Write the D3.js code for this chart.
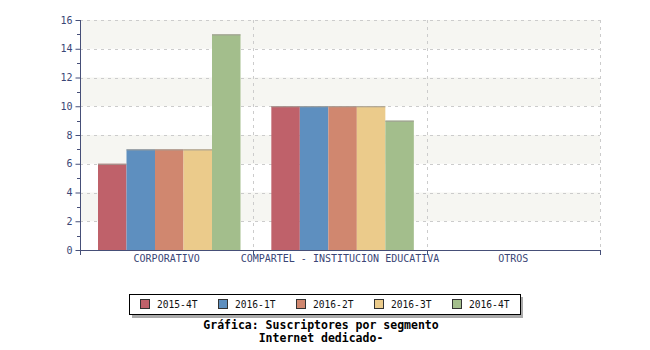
<!DOCTYPE html>
<html>
<head>
<meta charset="utf-8">
<script src="https://cdn.jsdelivr.net/npm/d3@7"></script>
<style>
  html, body { margin: 0; padding: 0; background: #ffffff; }
  svg { display: block; }
  text { font-family: "DejaVu Sans Mono", "Liberation Mono", monospace; }
</style>
</head>
<body>
<svg id="chart" width="650" height="350"></svg>
<script>
const categories = ["CORPORATIVO", "COMPARTEL - INSTITUCION EDUCATIVA", "OTROS"];
const seriesNames = ["2015-4T", "2016-1T", "2016-2T", "2016-3T", "2016-4T"];
const seriesColors = ["#BF616A", "#5E8FBF", "#D0876F", "#EBCB8B", "#A3BE8C"];
const values2015_4T = [6, 10, 0];
const values2016_1T = [7, 10, 0];
const values2016_2T = [7, 10, 0];
const values2016_3T = [7, 10, 0];
const values2016_4T = [15, 9, 0];
const yTicks = [0, 2, 4, 6, 8, 10, 12, 14, 16];
const titleLines = ["Gráfica: Suscriptores por segmento", "Internet dedicado-"];

const seriesValues = [values2015_4T, values2016_1T, values2016_2T, values2016_3T, values2016_4T];

const svg = d3.select("#chart");
const pLeft = 80, pRight = 600, pTop = 20, pBottom = 250;
const axisColor = "#464f78";
const textColor = "#3a4676";

const x = d3.scaleBand().domain(categories).range([pLeft, pRight]).padding(0);
const bw = x.bandwidth();
const xInner = d3.scaleBand().domain(seriesNames).range([18, 160.5]).padding(0);
const y = d3.scaleLinear().domain([0, 16]).range([pBottom, pTop]);

// alternating background bands
const bandPairs = [[2, 4], [6, 8], [10, 12], [14, 16]];
svg.append("g").selectAll("rect").data(bandPairs).join("rect")
  .attr("x", pLeft).attr("width", pRight - pLeft)
  .attr("y", d => y(d[1])).attr("height", d => y(d[0]) - y(d[1]))
  .attr("fill", "#f6f6f2");

// horizontal grid
svg.append("g").selectAll("line").data(yTicks.filter(v => v > 0)).join("line")
  .attr("x1", pLeft).attr("x2", pRight)
  .attr("y1", d => Math.round(y(d)) + 0.5).attr("y2", d => Math.round(y(d)) + 0.5)
  .attr("stroke", "#cccccc").attr("stroke-dasharray", "3,4");

// vertical grid
const vgrid = categories.map(c => x(c) + bw);
svg.append("g").selectAll("line").data(vgrid).join("line")
  .attr("x1", d => Math.round(d) + 0.5).attr("x2", d => Math.round(d) + 0.5)
  .attr("y1", pTop).attr("y2", pBottom)
  .attr("stroke", "#cccccc").attr("stroke-dasharray", "3,4");

// bars
const barData = [];
categories.forEach((c, ci) => {
  seriesNames.forEach((s, si) => {
    barData.push({ c, s, si, v: seriesValues[si][ci] });
  });
});
const bars = svg.append("g");
bars.selectAll("rect").data(barData.filter(d => d.v > 0)).join("rect")
  .attr("x", d => x(d.c) + xInner(d.s))
  .attr("width", xInner.bandwidth())
  .attr("y", d => y(d.v))
  .attr("height", d => y(0) - y(d.v))
  .attr("fill", d => seriesColors[d.si]);
bars.selectAll("line").data(barData.filter(d => d.v > 0)).join("line")
  .attr("x1", d => x(d.c) + xInner(d.s))
  .attr("x2", d => x(d.c) + xInner(d.s) + xInner.bandwidth())
  .attr("y1", d => y(d.v) + 0.5).attr("y2", d => y(d.v) + 0.5)
  .attr("stroke", "#a09c94").attr("stroke-width", 1);

// y axis
const yAxis = d3.axisLeft(y).tickValues(yTicks).tickSize(5).tickPadding(3).tickFormat(d3.format("d"));
const gy = svg.append("g").attr("transform", `translate(${pLeft + 0.5},0)`).call(yAxis);
gy.select(".domain").attr("stroke", axisColor).attr("d", `M0,${pTop}V${pBottom + 5}`);
gy.selectAll(".tick line").attr("stroke", axisColor);
gy.selectAll(".tick text").attr("fill", textColor).style("font-size", "10px")
  .style("font-family", "'DejaVu Sans Mono', monospace");
// minor ticks
const minor = d3.range(1, 16, 2);
svg.append("g").selectAll("line").data(minor).join("line")
  .attr("x1", pLeft - 3).attr("x2", pLeft)
  .attr("y1", d => Math.round(y(d)) + 0.5).attr("y2", d => Math.round(y(d)) + 0.5)
  .attr("stroke", axisColor);

// x axis
const xAxis = d3.axisBottom(x).tickSize(0).tickPadding(4);
const gx = svg.append("g").attr("transform", `translate(0,${pBottom + 0.5})`).call(xAxis);
gx.select(".domain").attr("stroke", axisColor).attr("d", `M${pLeft},0H${pRight}`);
gx.selectAll(".tick text").attr("fill", textColor).style("font-size", "10px")
  .style("font-family", "'DejaVu Sans Mono', monospace").attr("dy", "0.71em");
svg.append("g").selectAll("line").data(vgrid).join("line")
  .attr("x1", d => Math.round(d) + 0.5).attr("x2", d => Math.round(d) + 0.5)
  .attr("y1", pBottom).attr("y2", pBottom + 5)
  .attr("stroke", axisColor);

// legend
const lg = svg.append("g");
lg.append("rect").attr("x", 132).attr("y", 297).attr("width", 391).attr("height", 21).attr("fill", "#aaaaaa");
lg.append("rect").attr("x", 129.5).attr("y", 294.5).attr("width", 391).attr("height", 20)
  .attr("fill", "#ffffff").attr("stroke", "#000000");
const items = lg.selectAll("g.item").data(seriesNames).join("g").attr("class", "item")
  .attr("transform", (d, i) => `translate(${140 + i * 78},0)`);
items.append("rect").attr("x", 0.5).attr("y", 299.5).attr("width", 9).attr("height", 9)
  .attr("fill", (d, i) => seriesColors[i]).attr("stroke", "#333");
items.append("text").attr("x", 17).attr("y", 308).text(d => d)
  .attr("fill", "#111").style("font-size", "9.6px");

// title
svg.append("g").selectAll("text").data(titleLines).join("text")
  .attr("x", 321).attr("y", (d, i) => 329 + i * 12.5)
  .attr("text-anchor", "middle").attr("fill", "#000")
  .style("font-size", "11.5px").style("font-weight", "bold").text(d => d);
</script>
</body>
</html>
